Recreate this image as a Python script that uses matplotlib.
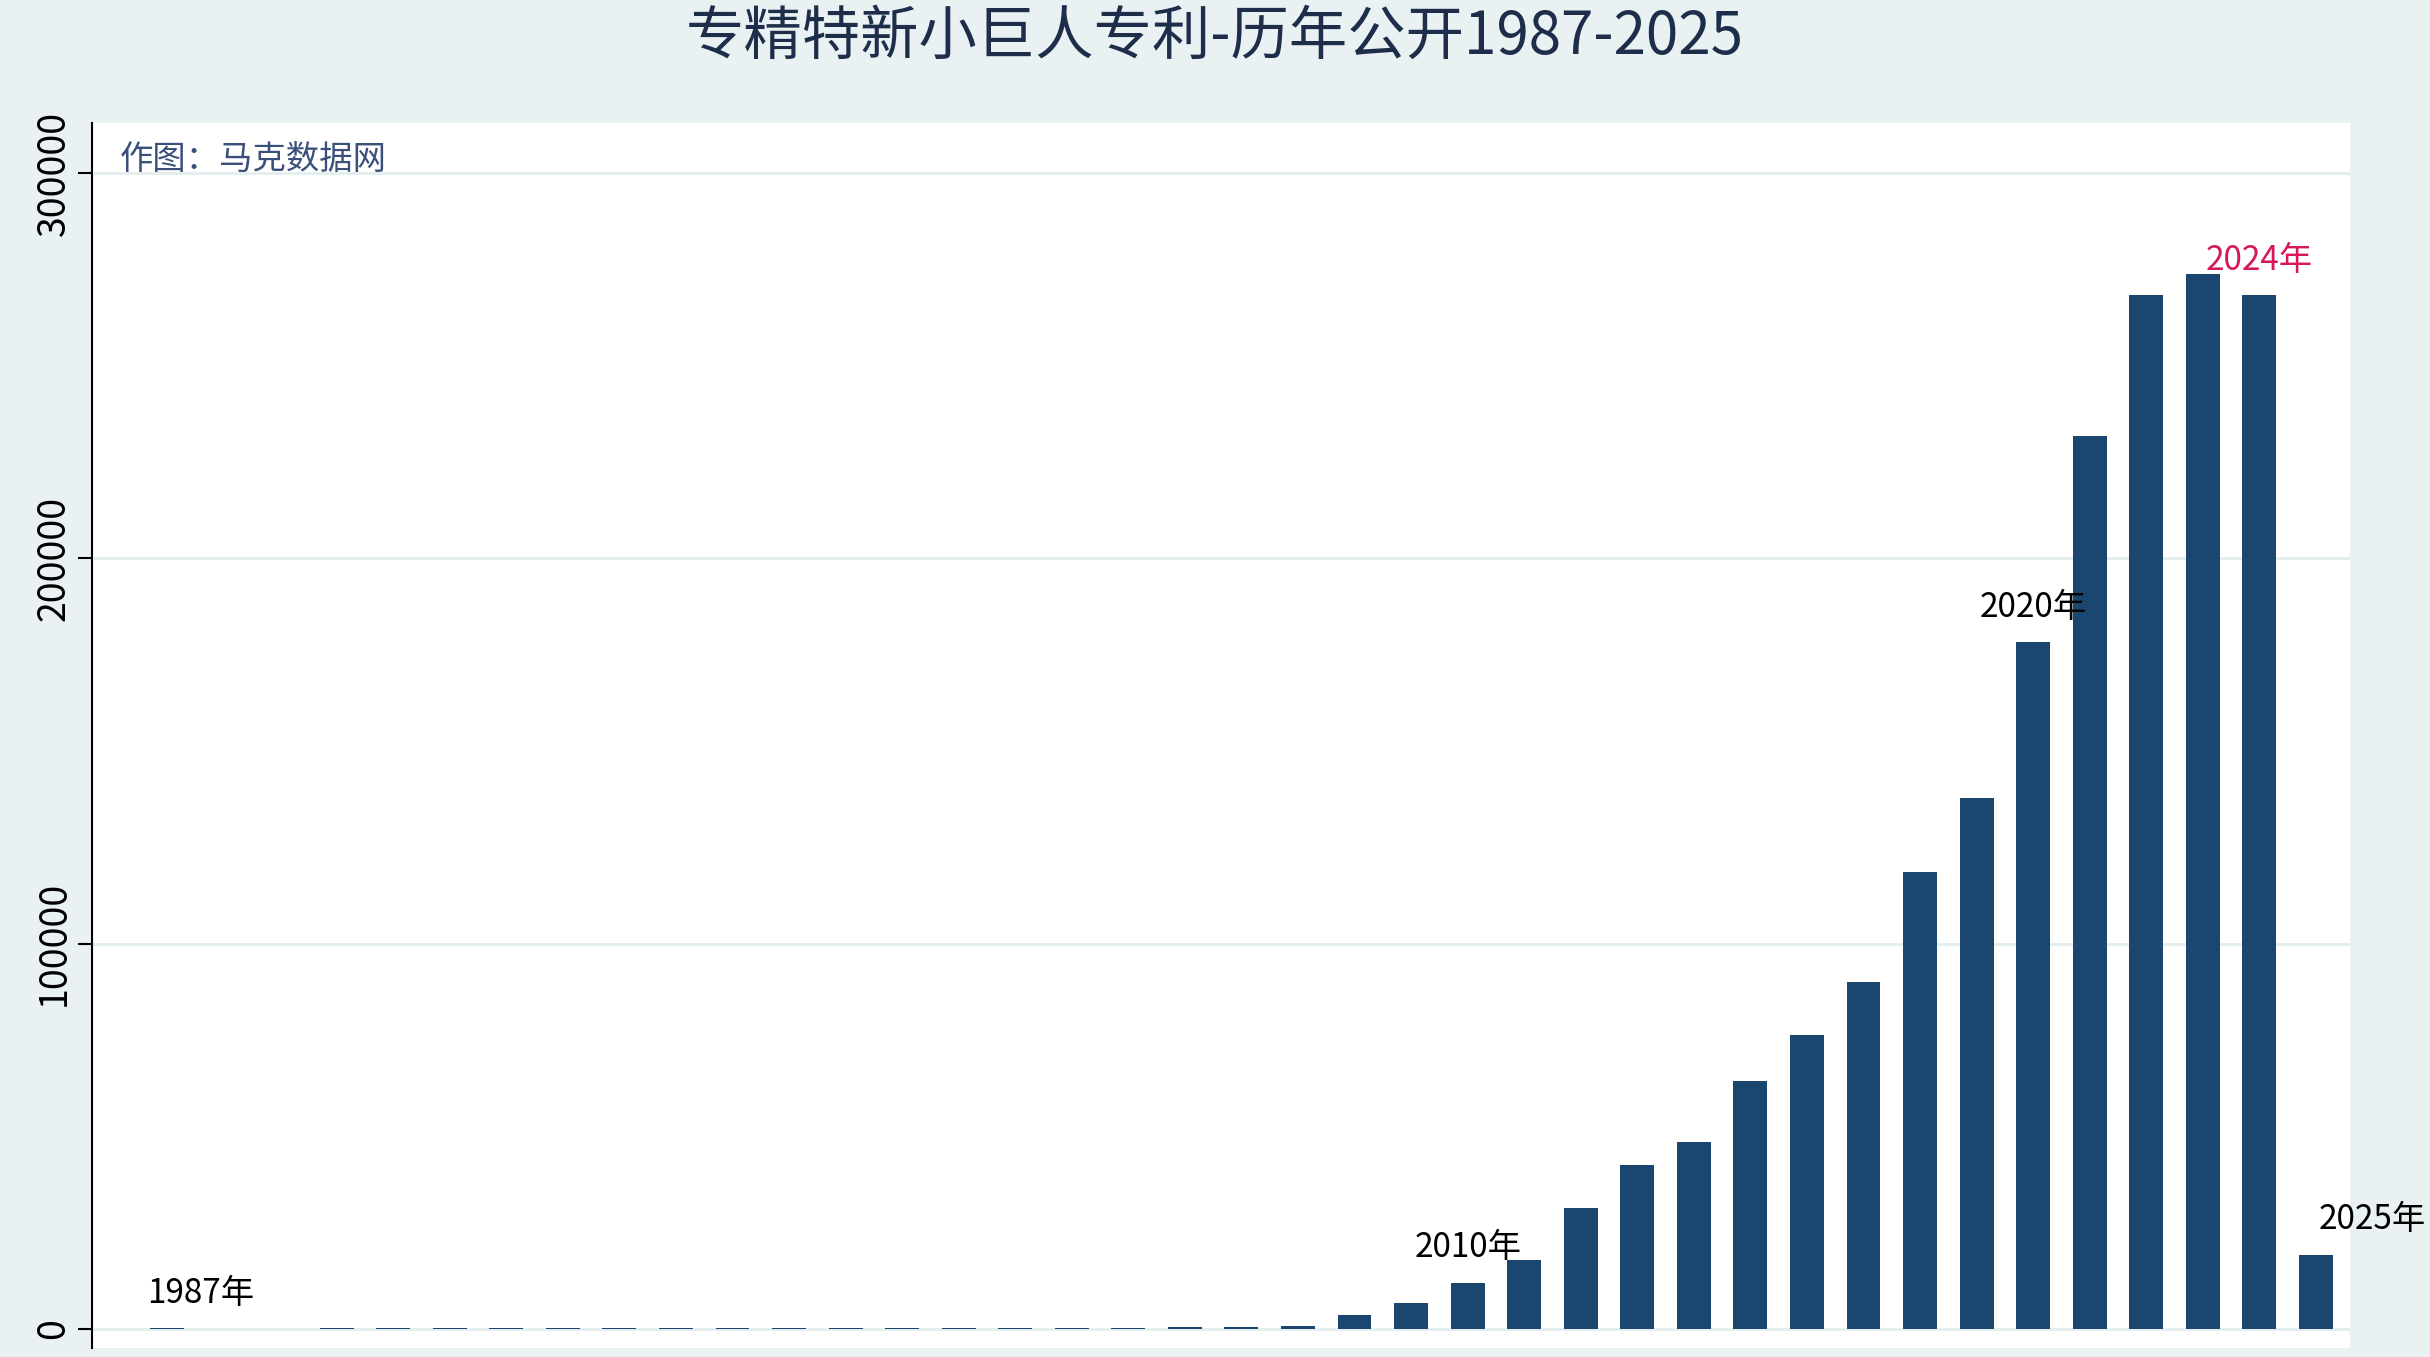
import matplotlib
matplotlib.use("Agg")
import matplotlib.pyplot as plt
import numpy as np

plt.rcParams['font.family'] = ['Noto Sans CJK SC', 'DejaVu Sans']

years = list(range(1987, 2026))
counts = [150, 120, 130, 140, 150, 160, 170, 180, 190, 200, 210, 220, 240, 260, 280, 300,
          320, 360, 420, 500, 800, 3600, 6800, 12000, 18000, 31300, 42600, 48600, 64300,
          76300, 90000, 118500, 137800, 178300, 231700, 268300, 273900, 268300, 19300]
labels = {1987: '1987年', 2010: '2010年', 2020: '2020年', 2024: '2024年', 2025: '2025年'}

bar_color = '#1b4670'
bg = '#e9f1f3'

fig = plt.figure(figsize=(24.3, 13.57), dpi=100, facecolor=bg)
ax = fig.add_axes([0.038, 0.007, 0.929, 0.902])
ax.set_facecolor('white')

x = np.arange(len(years))
ax.bar(x, counts, width=0.6, color=bar_color, zorder=3)

ax.set_xlim(-1.32, 38.6)
ax.set_ylim(-4800, 312900)
ax.set_yticks([0, 100000, 200000, 300000])
ax.set_yticklabels(['0', '100000', '200000', '300000'], rotation=90, va='center', fontsize=27)
ax.set_xticks([])
ax.grid(axis='y', color='#e3eeef', linewidth=2, zorder=0)
for s in ['top', 'right', 'bottom']:
    ax.spines[s].set_visible(False)
ax.spines['left'].set_linewidth(1.5)
ax.tick_params(axis='y', length=10, width=1.5)

for yr, txt in labels.items():
    i = years.index(yr)
    col = '#d6185a' if yr == 2024 else 'black'
    dx = 0.6 if yr == 1987 else (1.0 if yr == 2025 else 0)
    ax.text(i + dx, counts[i] + 4500, txt, ha='center', va='bottom', fontsize=24, color=col)

ax.text(0.012, 0.985, '作图：马克数据网', transform=ax.transAxes, ha='left', va='top',
        fontsize=24, color='#3a4f7a')

fig.suptitle('专精特新小巨人专利-历年公开1987-2025', y=0.995, va='top', fontsize=42, color='#1e2d4a')

fig.savefig('out.png', dpi=100, facecolor=bg)
